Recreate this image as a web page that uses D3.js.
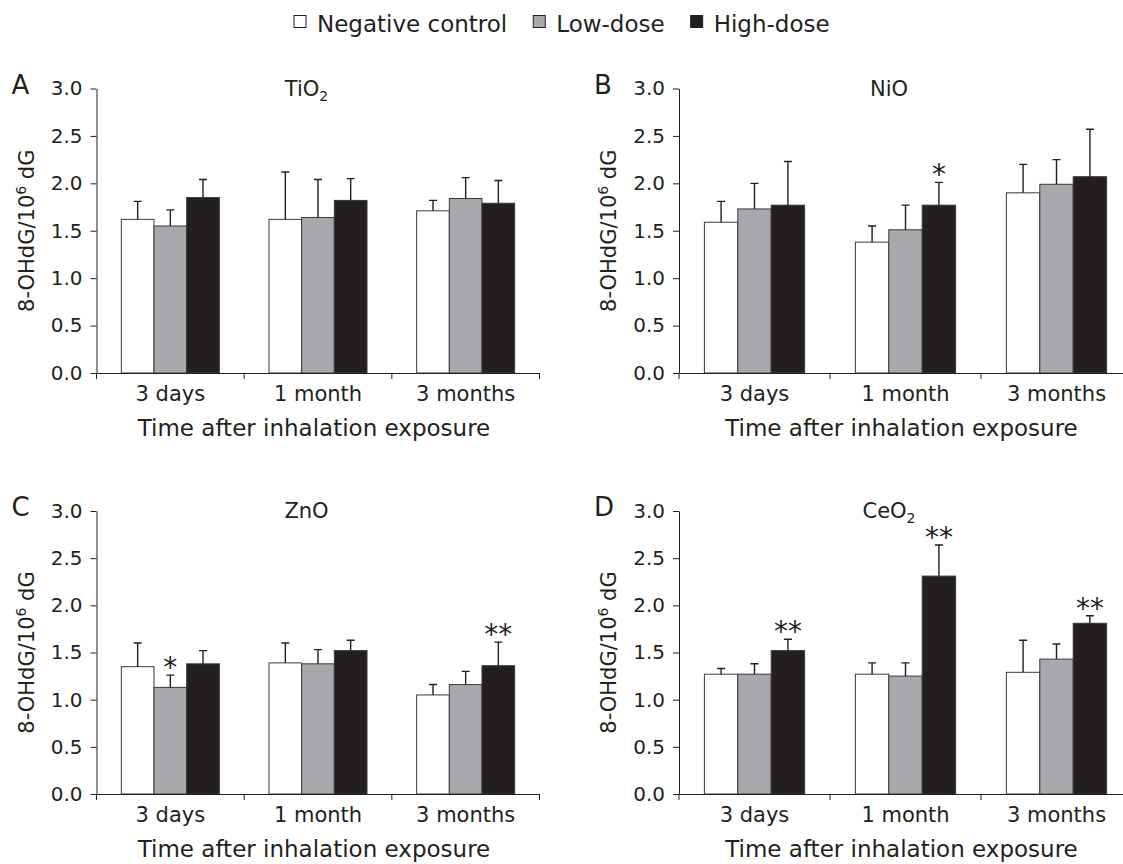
<!DOCTYPE html>
<html>
<head>
<meta charset="utf-8">
<script src="https://cdn.jsdelivr.net/npm/d3@7"></script>
<style>
  body { margin: 0; background: #fff; }
</style>
</head>
<body>
<script>
// Data
const categories = ["3 days", "1 month", "3 months"];
const series = ["Negative control", "Low-dose", "High-dose"];
const yTicks = [0, 0.5, 1.0, 1.5, 2.0, 2.5, 3.0];

// means[series][category], sd likewise
const tio2Means = [[1.62, 1.62, 1.71], [1.55, 1.64, 1.84], [1.85, 1.82, 1.79]];
const tio2Sd    = [[0.19, 0.50, 0.11], [0.17, 0.40, 0.22], [0.19, 0.23, 0.24]];
const nioMeans  = [[1.59, 1.38, 1.90], [1.73, 1.51, 1.99], [1.77, 1.77, 2.07]];
const nioSd     = [[0.22, 0.17, 0.30], [0.27, 0.26, 0.26], [0.46, 0.24, 0.50]];
const znoMeans  = [[1.35, 1.39, 1.05], [1.13, 1.38, 1.16], [1.38, 1.52, 1.36]];
const znoSd     = [[0.25, 0.21, 0.11], [0.13, 0.15, 0.14], [0.14, 0.11, 0.25]];
const ceo2Means = [[1.27, 1.27, 1.29], [1.27, 1.25, 1.43], [1.52, 2.31, 1.81]];
const ceo2Sd    = [[0.06, 0.12, 0.34], [0.11, 0.14, 0.16], [0.12, 0.33, 0.08]];

// significance marks: [category, series, label]
const nioMarks  = [["1 month", "High-dose", "*"]];
const znoMarks  = [["3 days", "Low-dose", "*"], ["3 months", "High-dose", "**"]];
const ceo2Marks = [["3 days", "High-dose", "**"], ["1 month", "High-dose", "**"], ["3 months", "High-dose", "**"]];

const colors = { "Negative control": "#ffffff", "Low-dose": "#a7a9ac", "High-dose": "#231f20" };
const ink = "#231f20";
const font = "'DejaVu Sans', Verdana, sans-serif";

const panels = [
  { letter: "A", title: "TiO", sub: "2", means: tio2Means, sd: tio2Sd, marks: [], col: 0, row: 0 },
  { letter: "B", title: "NiO", sub: "", means: nioMeans, sd: nioSd, marks: nioMarks, col: 1, row: 0 },
  { letter: "C", title: "ZnO", sub: "", means: znoMeans, sd: znoSd, marks: znoMarks, col: 0, row: 1 },
  { letter: "D", title: "CeO", sub: "2", means: ceo2Means, sd: ceo2Sd, marks: ceo2Marks, col: 1, row: 1 }
];

const cols = [{ left: 96.5, right: 539.5 }, { left: 679, right: 1132 }];
const rows = [{ top: 88.5, bottom: 373 }, { top: 511, bottom: 794 }];

const svg = d3.select("body").append("svg")
  .attr("width", 1123).attr("height", 864)
  .style("font-family", font);

// Legend
let lx = 294;
series.forEach(s => {
  svg.append("rect")
    .attr("x", lx).attr("y", 15.5).attr("width", 12).attr("height", 12)
    .attr("fill", colors[s]).attr("stroke", ink).attr("stroke-width", 1);
  const t = svg.append("text")
    .attr("x", lx + 23).attr("y", 32)
    .attr("font-size", 23).attr("fill", ink)
    .text(s);
  lx += 23 + t.node().getComputedTextLength() + 26;
});

panels.forEach(p => {
  const C = cols[p.col], R = rows[p.row];
  const x0 = d3.scaleBand().domain(categories).range([C.left, C.right]);
  const x1 = d3.scaleBand().domain(series).range([0, x0.bandwidth()]).paddingOuter(0.76);
  const y = d3.scaleLinear().domain([0, 3]).range([R.bottom, R.top]);
  const g = svg.append("g");

  const bars = categories.flatMap((c, i) => series.map((s, j) => ({
    c, s, mean: p.means[j][i], sd: p.sd[j][i]
  })));

  // bars
  g.selectAll(".bar").data(bars).enter().append("rect")
    .attr("class", "bar")
    .attr("x", d => x0(d.c) + x1(d.s))
    .attr("y", d => y(d.mean))
    .attr("width", x1.bandwidth())
    .attr("height", d => y(0) - y(d.mean))
    .attr("fill", d => colors[d.s])
    .attr("stroke", "#3a3a3a")
    .attr("stroke-width", 1);

  // error bars (upper only)
  const cx = d => x0(d.c) + x1(d.s) + x1.bandwidth() / 2;
  g.selectAll(".err").data(bars).enter().append("path")
    .attr("class", "err")
    .attr("d", d => `M${cx(d)},${y(d.mean)}V${y(d.mean + d.sd)}M${cx(d) - 4},${y(d.mean + d.sd)}H${cx(d) + 4}`)
    .attr("fill", "none").attr("stroke", ink).attr("stroke-width", 1.4);

  // significance stars
  p.marks.forEach(([c, s, label]) => {
    const d = bars.find(b => b.c === c && b.s === s);
    g.append("text")
      .attr("x", cx(d)).attr("y", y(d.mean + d.sd) + 2)
      .attr("text-anchor", "middle").attr("font-size", 28).attr("fill", ink)
      .text(label);
  });

  // y axis
  const ya = g.append("g")
    .attr("transform", `translate(${C.left},0)`)
    .call(d3.axisLeft(y).tickValues(yTicks).tickFormat(d3.format(".1f")).tickSize(6).tickPadding(8).tickSizeOuter(0));
  ya.selectAll("text").attr("font-size", 20).attr("font-family", font).attr("fill", ink);
  ya.selectAll("line, path").attr("stroke", ink);

  // x axis: labels centred, ticks on category boundaries
  const xa = g.append("g")
    .attr("transform", `translate(0,${R.bottom})`)
    .call(d3.axisBottom(x0).tickSize(0).tickSizeOuter(0));
  xa.selectAll("text").attr("y", 28).attr("dy", null)
    .attr("font-size", 21).attr("font-family", font).attr("fill", ink);
  xa.select(".domain").attr("stroke", ink);
  const bounds = categories.map(c => x0(c)).concat([x0.range()[1]]);
  xa.selectAll(".bound").data(bounds).enter().append("line")
    .attr("class", "bound")
    .attr("x1", d => d).attr("x2", d => d).attr("y1", 0).attr("y2", 6)
    .attr("stroke", ink);

  // x axis title
  g.append("text")
    .attr("x", (C.left + C.right) / 2 - 4).attr("y", R.bottom + 63)
    .attr("text-anchor", "middle").attr("font-size", 23).attr("fill", ink)
    .text("Time after inhalation exposure");

  // y axis title
  const yt = g.append("text")
    .attr("transform", `translate(${C.left - 63},${(R.top + R.bottom) / 2}) rotate(-90)`)
    .attr("text-anchor", "middle").attr("font-size", 21).attr("fill", ink);
  yt.append("tspan").text("8-OHdG/10");
  yt.append("tspan").attr("font-size", 14).attr("dy", -8).text("6");
  yt.append("tspan").attr("dy", 8).text(" dG");

  // panel title
  const tt = g.append("text")
    .attr("x", C.left + 210).attr("y", R.top + 7)
    .attr("text-anchor", "middle").attr("font-size", 21).attr("fill", ink);
  tt.append("tspan").text(p.title);
  if (p.sub) tt.append("tspan").attr("font-size", 14).attr("dy", 5).text(p.sub);

  // panel letter
  g.append("text")
    .attr("x", C.left - 85).attr("y", R.top + 5)
    .attr("font-size", 26).attr("fill", ink)
    .text(p.letter);
});
</script>
</body>
</html>
